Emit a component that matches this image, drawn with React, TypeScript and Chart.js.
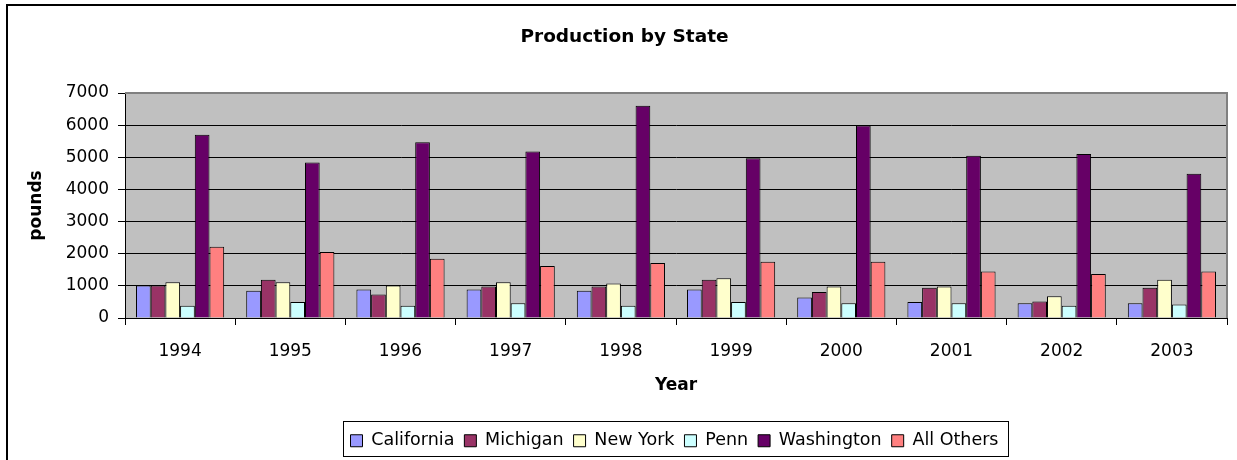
import React, { useEffect, useRef } from "react";
import { Chart, registerables } from "chart.js";

Chart.register(...registerables);

const years = ["1994", "1995", "1996", "1997", "1998", "1999", "2000", "2001", "2002", "2003"];
const california = [1010, 850, 890, 890, 850, 890, 640, 500, 460, 460];
const michigan = [1010, 1190, 730, 980, 980, 1190, 810, 940, 510, 940];
const newYork = [1110, 1110, 1010, 1110, 1070, 1240, 980, 980, 680, 1190];
const penn = [380, 500, 380, 460, 380, 500, 460, 460, 380, 420];
const washington = [5700, 4840, 5470, 5180, 6600, 4970, 5990, 5050, 5100, 4490];
const allOthers = [2220, 2050, 1840, 1620, 1710, 1750, 1750, 1450, 1370, 1450];

const FONT = "DejaVu Sans";
const LEGEND_PAD = 10;
const LEGEND_FONT = 17.5;

const framePlugin = {
  id: "frame",
  beforeDraw(chart: any) {
    const { ctx, chartArea } = chart;
    ctx.save();
    ctx.fillStyle = "#ffffff";
    ctx.fillRect(0, 0, chart.width, chart.height);
    ctx.fillStyle = "#C0C0C0";
    ctx.fillRect(chartArea.left, chartArea.top, chartArea.right - chartArea.left, chartArea.bottom - chartArea.top);
    ctx.strokeStyle = "#000";
    ctx.lineWidth = 2;
    ctx.beginPath();
    ctx.moveTo(7, 470);
    ctx.lineTo(7, 5);
    ctx.lineTo(1236, 5);
    ctx.stroke();
    ctx.restore();
  },
  beforeDatasetsDraw(chart: any) {
    const { ctx, chartArea } = chart;
    ctx.save();
    ctx.strokeStyle = "#808080";
    ctx.lineWidth = 2;
    ctx.beginPath();
    ctx.moveTo(chartArea.left, chartArea.top);
    ctx.lineTo(chartArea.right, chartArea.top);
    ctx.lineTo(chartArea.right, chartArea.bottom);
    ctx.stroke();
    ctx.restore();
  },
  afterUpdate(chart: any) {
    const legend = chart.legend;
    if (!legend) return;
    const dx = 674.5 - (legend.left + legend.right) / 2;
    legend.left += dx;
    legend.right += dx;
    if (legend.adjustHitBoxes) legend.adjustHitBoxes();
  },
  afterDraw(chart: any) {
    const legend = chart.legend;
    if (!legend || !legend.lineWidths) return;
    const rowW = legend.lineWidths[0] - LEGEND_PAD;
    const cx = (legend.left + legend.right) / 2;
    const l = cx - rowW / 2 - 8;
    const r = cx + rowW / 2 + 9;
    const cy = legend.top + LEGEND_PAD + LEGEND_FONT / 2;
    const t = cy - 20;
    const b = cy + 15;
    const { ctx } = chart;
    ctx.save();
    ctx.strokeStyle = "#000";
    ctx.lineWidth = 1;
    ctx.strokeRect(Math.round(l) + 0.5, Math.round(t) + 0.5, Math.round(r - l), Math.round(b - t));
    ctx.restore();
  },
};

export default function App() {
  const ref = useRef<HTMLCanvasElement | null>(null);
  useEffect(() => {
    if (!ref.current) return;
    const mk = (label: string, data: number[], color: string) => ({
      label,
      data,
      backgroundColor: color,
      borderColor: "#000",
      borderWidth: 1,
      categoryPercentage: 0.8,
      barPercentage: 1.0,
    });
    const chart = new Chart(ref.current, {
      type: "bar",
      data: {
        labels: years,
        datasets: [
          mk("California", california, "#9999FF"),
          mk("Michigan", michigan, "#993366"),
          mk("New York", newYork, "#FFFFCC"),
          mk("Penn", penn, "#CCFFFF"),
          mk("Washington", washington, "#660066"),
          mk("All Others", allOthers, "#FF8080"),
        ],
      },
      options: {
        responsive: false,
        animation: false,
        layout: { padding: { left: 22, right: 10, top: 0, bottom: 0.5 } },
        plugins: {
          title: {
            display: true,
            text: "Production by State",
            color: "#000",
            font: { family: FONT, size: 18.5, weight: "bold" },
            padding: { top: 26, bottom: 44.8 },
          },
          legend: {
            display: true,
            position: "bottom",
            labels: {
              color: "#000",
              font: { family: FONT, size: LEGEND_FONT },
              boxWidth: 12,
              boxHeight: 12,
              padding: LEGEND_PAD,
            },
          },
          tooltip: { enabled: false },
        },
        scales: {
          x: {
            afterFit: (s: any) => {
              s.height = 104;
            },
            grid: {
              drawOnChartArea: false,
              color: "#000",
              tickColor: "#000",
              tickLength: 7,
              offset: true,
            },
            border: { display: true, color: "#000", width: 1 },
            ticks: {
              color: "#000",
              font: { family: FONT, size: 17 },
              padding: 16,
            },
            title: {
              display: true,
              text: "Year",
              color: "#000",
              font: { family: FONT, size: 17, weight: "bold" },
              padding: { top: 0, bottom: 26 },
            },
          },
          y: {
            min: 0,
            max: 7000,
            afterFit: (s: any) => {
              s.width = 103;
            },
            grid: {
              color: (c: any) => (c.tick && c.tick.value === 7000 ? "rgba(0,0,0,0)" : "#000"),
              tickColor: "#000",
              tickLength: 7,
              lineWidth: 1,
            },
            border: { display: true, color: "#000", width: 1 },
            ticks: {
              stepSize: 1000,
              color: "#000",
              font: { family: FONT, size: 17 },
              padding: 9,
              callback: (v: any) => String(v),
            },
            title: {
              display: true,
              text: "pounds",
              color: "#000",
              font: { family: FONT, size: 17, weight: "bold" },
              padding: { top: 4, bottom: 0 },
            },
          },
        },
      },
      plugins: [framePlugin],
    } as any);
    return () => chart.destroy();
  }, []);
  return (
    <div style={{ position: "absolute", left: 0, top: 0, width: 1237, height: 460 }}>
      <canvas ref={ref} width={1237} height={460} style={{ display: "block", width: 1237, height: 460 }} />
    </div>
  );
}
